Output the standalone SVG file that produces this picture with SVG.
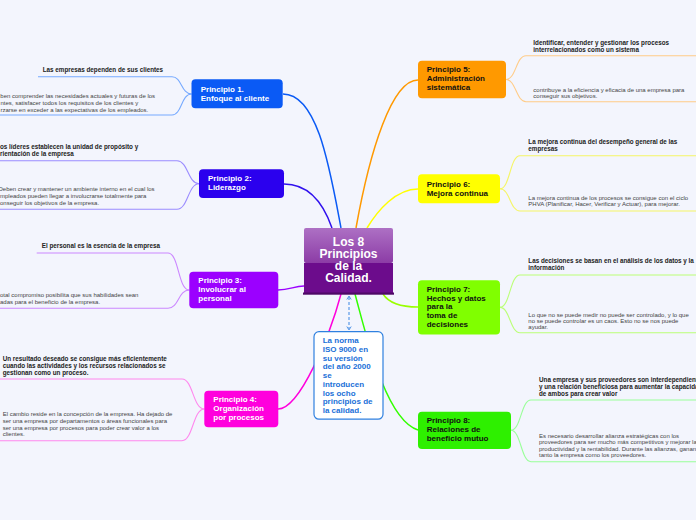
<svg xmlns="http://www.w3.org/2000/svg" width="696" height="520" viewBox="0 0 696 520">
<defs>
<style>
text{font-family:"Liberation Sans",Arial,sans-serif}
.nt{font-weight:bold;font-size:8px}
.w{fill:#ffffff}
.k{fill:#111111}
.lb{font-weight:bold;font-size:6.3px;fill:#222222}
.lr{font-size:6px;fill:#444444}
.mc{fill:none;stroke-width:1.5}
.lc{fill:none;stroke-width:1.1}
.ct{font-weight:bold;font-size:12px;fill:#ffffff;text-anchor:middle}
.note{font-weight:bold;font-size:8px;fill:#1a6fd8}
</style>
<linearGradient id="cg" x1="0" y1="0" x2="0" y2="1">
<stop offset="0" stop-color="#ad70c4"/>
<stop offset="1" stop-color="#8c3ca6"/>
</linearGradient>
<marker id="ah" viewBox="0 0 6 6" refX="3" refY="3" markerWidth="5" markerHeight="5" orient="auto-start-reverse">
<path d="M0.5,0.8 L4,3 L0.5,5.2" fill="none" stroke="#5a9ae8" stroke-width="1"/>
</marker>
</defs>
<rect x="0" y="0" width="696" height="520" fill="#f3f5fd"/>

<g id="connectors">
<path class="mc" stroke="#0a5af5" d="M283,94 C318,94 330,170 341,228"/>
<path class="mc" stroke="#3010ee" d="M284,184 C310,184 324,205 332,228"/>
<path class="mc" stroke="#9b00ff" d="M278,290 C290,290 294,286 304,286"/>
<path class="mc" stroke="#ff00dd" d="M278,409 C300,409 330,335 341,294"/>
<path class="mc" stroke="#ff9900" d="M418,80 C392,80 370,150 356,228"/>
<path class="mc" stroke="#ffff00" d="M418,189 C396,189 378,210 367,228"/>
<path class="mc" stroke="#99ff00" d="M383,294 C390,305 404,307 418,307"/>
<path class="mc" stroke="#33ff00" d="M355,294 C365,330 385,420 418,430"/>
<path fill="none" stroke="#5a9ae8" stroke-width="1.2" stroke-dasharray="3,2" d="M349,297 L349,329" marker-start="url(#ah)" marker-end="url(#ah)"/>

<path class="lc" stroke="#77aaff" d="M38,76.7 H172 C182,76.7 181,94 191.5,94"/>
<path class="lc" stroke="#77aaff" d="M0,115 H172 C182,115 181,94 191.5,94"/>
<path class="lc" stroke="#9b8cff" d="M0,160.7 H177 C188,160.7 188,183.7 199,183.7"/>
<path class="lc" stroke="#9b8cff" d="M0,209.3 H177 C188,209.3 188,183.7 199,183.7"/>
<path class="lc" stroke="#cc88ff" d="M36.7,253 H168 C179,253 178,290 189.3,290"/>
<path class="lc" stroke="#cc88ff" d="M0,308.3 H168 C179,308.3 178,290 189.3,290"/>
<path class="lc" stroke="#ff88ee" d="M0,379 H182 C193,379 193,409 204.3,409"/>
<path class="lc" stroke="#ff88ee" d="M0,440.7 H182 C193,440.7 193,409 204.3,409"/>

<path class="lc" stroke="#ffcc88" d="M506,79.5 C516,79.5 516,55.7 526,55.7 H696"/>
<path class="lc" stroke="#ffcc88" d="M506,79.5 C516,79.5 516,101.7 526,101.7 H696"/>
<path class="lc" stroke="#f5f566" d="M500,188.8 C510,188.8 510,155.7 520,155.7 H696"/>
<path class="lc" stroke="#f5f566" d="M500,188.8 C510,188.8 510,211 520,211 H696"/>
<path class="lc" stroke="#bbff77" d="M500,307.4 C510,307.4 510,275 520,275 H696"/>
<path class="lc" stroke="#bbff77" d="M500,307.4 C510,307.4 510,332.7 520,332.7 H696"/>
<path class="lc" stroke="#99ff99" d="M511,430.3 C521,430.3 521,400 531,400 H696"/>
<path class="lc" stroke="#99ff99" d="M511,430.3 C521,430.3 521,461.7 531,461.7 H696"/>
</g>

<g id="center">
<rect x="304" y="228" width="89" height="35" rx="2" fill="url(#cg)"/>
<rect x="304" y="263" width="89" height="30" fill="#6c0c8c"/>
<rect x="303" y="292.5" width="91" height="2.2" fill="#4e0866"/>
<text class="ct" x="348.5" y="245.5">Los 8</text>
<text class="ct" x="348.5" y="257.7">Principios</text>
<text class="ct" x="348.5" y="269.9">de la</text>
<text class="ct" x="348.5" y="282.1">Calidad.</text>
</g>

<g id="note">
<rect x="314" y="331.7" width="69" height="87.5" rx="5" fill="#ffffff" stroke="#2f80e0" stroke-width="1.2"/>
<text class="note" x="322.7" y="343.3">La norma</text>
<text class="note" x="322.7" y="352">ISO 9000 en</text>
<text class="note" x="322.7" y="360.7">su versión</text>
<text class="note" x="322.7" y="369.4">del año 2000</text>
<text class="note" x="322.7" y="378.1">se</text>
<text class="note" x="322.7" y="386.8">introducen</text>
<text class="note" x="322.7" y="395.5">los ocho</text>
<text class="note" x="322.7" y="404.2">principios de</text>
<text class="note" x="322.7" y="412.9">la calidad.</text>
</g>

<g id="p1">
<rect x="191.5" y="79.3" width="91.2" height="29" rx="4" fill="#0a5af5"/>
<text class="nt w" x="200.7" y="91.7">Principio 1.</text>
<text class="nt w" x="200.7" y="100.5">Enfoque al cliente</text>
</g>
<g id="p1a"><text class="lb" x="42.7" y="72.3">Las empresas dependen de sus clientes</text></g>
<g id="p1b">
<text class="lr" x="0.3" y="98">ben comprender las necesidades actuales y futuras de los</text>
<text class="lr" x="0.5" y="105">ntes, satisfacer todos los requisitos de los clientes y</text>
<text class="lr" x="0.5" y="112">rzarse en exceder a las expectativas de los empleados.</text>
</g>

<g id="p2">
<rect x="199" y="169.3" width="85" height="28.7" rx="4" fill="#2b00ee"/>
<text class="nt w" x="208" y="181">Principio 2:</text>
<text class="nt w" x="208" y="190">Liderazgo</text>
</g>
<g id="p2a">
<text class="lb" x="0" y="149">os líderes establecen la unidad de propósito y</text>
<text class="lb" x="0" y="155.5">rientación de la empresa</text>
</g>
<g id="p2b">
<text class="lr" x="-1.5" y="191.3">Deben crear y mantener un ambiente interno en el cual los</text>
<text class="lr" x="0" y="198">mpleados pueden llegar a involucrarse totalmente para</text>
<text class="lr" x="0" y="204.5">onseguir los objetivos de la empresa.</text>
</g>

<g id="p3">
<rect x="189.3" y="271.7" width="89" height="36.6" rx="4" fill="#9b00ff"/>
<text class="nt w" x="198.3" y="282.7">Principio 3:</text>
<text class="nt w" x="198.3" y="291.7">Involucrar al</text>
<text class="nt w" x="198.3" y="300.5">personal</text>
</g>
<g id="p3a"><text class="lb" x="41.7" y="248.3">El personal es la esencia de la empresa</text></g>
<g id="p3b">
<text class="lr" x="0" y="297.3">otal compromiso posibilita que sus habilidades sean</text>
<text class="lr" x="0" y="304">adas para el beneficio de la empresa.</text>
</g>

<g id="p4">
<rect x="204.3" y="390.7" width="74" height="36.6" rx="4" fill="#ff00dd"/>
<text class="nt w" x="213.3" y="402.3">Principio 4:</text>
<text class="nt w" x="213.3" y="411">Organización</text>
<text class="nt w" x="213.3" y="419.7">por procesos</text>
</g>
<g id="p4a">
<text class="lb" x="2.7" y="361">Un resultado deseado se consigue más eficientemente</text>
<text class="lb" x="2.7" y="367.8">cuando las actividades y los recursos relacionados se</text>
<text class="lb" x="2.7" y="374.8">gestionan como un proceso.</text>
</g>
<g id="p4b">
<text class="lr" x="2.7" y="415.7">El cambio reside en la concepción de la empresa. Ha dejado de</text>
<text class="lr" x="2.7" y="422.7">ser una empresa por departamentos o áreas funcionales para</text>
<text class="lr" x="2.7" y="429.6">ser una empresa por procesos para poder crear valor a los</text>
<text class="lr" x="2.7" y="436.4">clientes.</text>
</g>

<g id="p5">
<rect x="418" y="60.7" width="88" height="37.6" rx="4" fill="#ff9900"/>
<text class="nt k" x="426.7" y="72.3">Principio 5:</text>
<text class="nt k" x="426.7" y="81.3">Administración</text>
<text class="nt k" x="426.7" y="90.3">sistemática</text>
</g>
<g id="p5a">
<text class="lb" x="533.3" y="45.3">Identificar, entender y gestionar los procesos</text>
<text class="lb" x="533.3" y="51.6">interrelacionados como un sistema</text>
</g>
<g id="p5b">
<text class="lr" x="533.3" y="91.7">contribuye a la eficiencia y eficacia de una empresa para</text>
<text class="lr" x="533.3" y="97.8">conseguir sus objetivos.</text>
</g>

<g id="p6">
<rect x="418" y="174.3" width="82" height="29" rx="4" fill="#ffff00"/>
<text class="nt k" x="426.7" y="186.7">Principio 6:</text>
<text class="nt k" x="426.7" y="195.7">Mejora continua</text>
</g>
<g id="p6a">
<text class="lb" x="528.3" y="144.3">La mejora continua del desempeño general de las</text>
<text class="lb" x="528.3" y="150.8">empresas</text>
</g>
<g id="p6b">
<text class="lr" x="528.3" y="199.7">La mejora continua de los procesos se consigue con el ciclo</text>
<text class="lr" x="528.3" y="206.3">PHVA (Planificar, Hacer, Verificar y Actuar), para mejorar.</text>
</g>

<g id="p7">
<rect x="418" y="280.3" width="82" height="54.2" rx="4" fill="#80ff00"/>
<text class="nt k" x="426.7" y="291.7">Principio 7:</text>
<text class="nt k" x="426.7" y="300.7">Hechos y datos</text>
<text class="nt k" x="426.7" y="309.3">para la</text>
<text class="nt k" x="426.7" y="318">toma de</text>
<text class="nt k" x="426.7" y="326.7">decisiones</text>
</g>
<g id="p7a">
<text class="lb" x="528.3" y="262.7">Las decisiones se basan en el análisis de los datos y la</text>
<text class="lb" x="528.3" y="269.7">información</text>
</g>
<g id="p7b">
<text class="lr" x="528.3" y="316.7">Lo que no se puede medir no puede ser controlado, y lo que</text>
<text class="lr" x="528.3" y="322.8">no se puede controlar es un caos. Esto no se nos puede</text>
<text class="lr" x="528.3" y="329.2">ayudar.</text>
</g>

<g id="p8">
<rect x="418" y="411.7" width="93" height="37.3" rx="4" fill="#2ef000"/>
<text class="nt k" x="426.7" y="423.3">Principio 8:</text>
<text class="nt k" x="426.7" y="432.3">Relaciones de</text>
<text class="nt k" x="426.7" y="441">beneficio mutuo</text>
</g>
<g id="p8a">
<text class="lb" x="539" y="382.3">Una empresa y sus proveedores son interdependientes</text>
<text class="lb" x="539" y="389">y una relación beneficiosa para aumentar la capacidad</text>
<text class="lb" x="539" y="395.7">de ambos para crear valor</text>
</g>
<g id="p8b">
<text class="lr" x="539" y="437.7">Es necesario desarrollar alianza estratégicas con los</text>
<text class="lr" x="539" y="444">proveedores para ser mucho más competitivos y mejorar la</text>
<text class="lr" x="539" y="450.8">productividad y la rentabilidad. Durante las alianzas, ganan</text>
<text class="lr" x="539" y="457.2">tanto la empresa como los proveedores.</text>
</g>
</svg>
